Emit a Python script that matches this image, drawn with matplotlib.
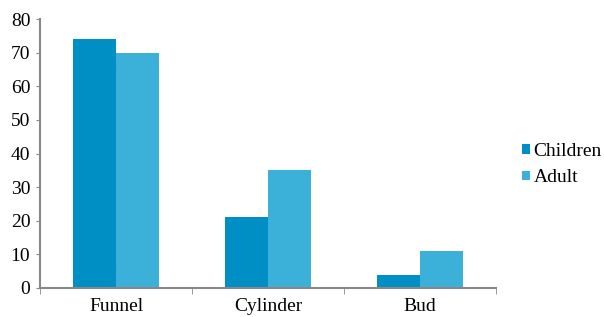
import numpy as np
import matplotlib.pyplot as plt
from matplotlib.ticker import FixedLocator

categories = ['Funnel', 'Cylinder', 'Bud']
children = [74, 21, 4]
adult = [70, 35, 11]
series_names = ['Children', 'Adult']
colors = ['#008fc4', '#3bb1da']

plt.rcParams['font.family'] = ['Liberation Serif', 'DejaVu Serif']

fig = plt.figure(figsize=(6.04, 3.17), dpi=100)
ax = fig.add_axes([0.0662, 0.0915, 0.7550, 0.8485])

x = np.arange(len(categories))
width = 0.283
ax.bar(x - width / 2, children, width, color=colors[0], label=series_names[0])
ax.bar(x + width / 2, adult, width, color=colors[1], label=series_names[1])

ax.set_xlim(-0.5, len(categories) - 0.5)
ax.set_ylim(0, 80)
ax.set_yticks(range(0, 81, 10))
ax.set_xticks(x)
ax.set_xticklabels(categories, fontsize=14)
ax.xaxis.set_minor_locator(FixedLocator(np.arange(-0.5, len(categories), 1.0)))
ax.tick_params(axis='x', which='major', length=0, pad=7)
ax.tick_params(axis='x', which='minor', length=4, color='#888888')
ax.tick_params(axis='y', length=3, color='#888888', labelsize=14, pad=4)

for side in ['top', 'right']:
    ax.spines[side].set_visible(False)
for side in ['left', 'bottom']:
    ax.spines[side].set_color('#888888')
    ax.spines[side].set_linewidth(1.5)

fig.legend(loc='center left', bbox_to_anchor=(0.864, 0.481), frameon=False,
           fontsize=14, handlelength=0.4, handleheight=0.4, handletextpad=0.2,
           labelspacing=0.5, borderaxespad=0, borderpad=0)

fig.savefig('out.png', dpi=100)
